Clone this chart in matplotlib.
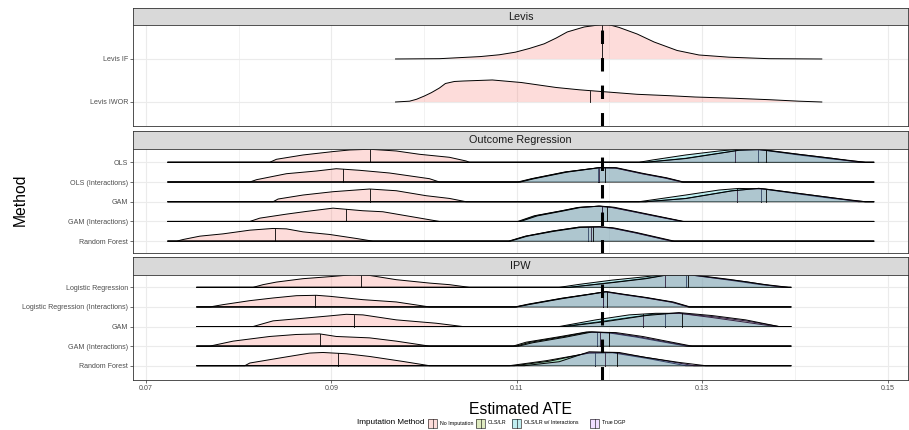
import matplotlib
matplotlib.use('Agg')
import matplotlib.pyplot as plt
from matplotlib.patches import Rectangle
from matplotlib.lines import Line2D
import numpy as np

plt.rcParams['font.family'] = ['Liberation Sans', 'DejaVu Sans']

# ---------------- data ----------------
true_ate = 0.1192
x_ticks = [0.07, 0.09, 0.11, 0.13, 0.15]
x_tick_labels = ['0.07', '0.09', '0.11', '0.13', '0.15']
x_minor = [0.08, 0.10, 0.12, 0.14]
x_limits = (0.0686, 0.1522)

facet_names = ['Levis', 'Outcome Regression', 'IPW']
levis_methods = ['Levis IF', 'Levis IWOR']
or_methods = ['OLS', 'OLS (Interactions)', 'GAM', 'GAM (Interactions)', 'Random Forest']
ipw_methods = ['Logistic Regression', 'Logistic Regression (Interactions)', 'GAM',
               'GAM (Interactions)', 'Random Forest']
imputations = ['No Imputation', 'OLS/LR', 'OLS/LR w/ Interactions', 'True DGP']
imp_colors = ['#F8766D', '#7CAE00', '#00BFC4', '#C77CFF']

# data range of each facet (density support)
levis_range = (0.09692, 0.1429)
or_range = (0.07237, 0.1485)
ipw_range = (0.07549, 0.13956)

# each ridge: (x values, scaled density heights, median)
# ---- Levis ----
lv_if_none = ([0.09692, 0.10166, 0.10607, 0.10812, 0.10984, 0.11135, 0.11296, 0.11426, 0.11544,
               0.11727, 0.11921, 0.11986, 0.12104, 0.12298, 0.12481, 0.12729, 0.12965, 0.13288,
               0.13719, 0.1429],
              [0, 0.007, 0.056, 0.098, 0.158, 0.244, 0.353, 0.488, 0.628, 0.744, 0.802, 0.802,
               0.733, 0.581, 0.395, 0.198, 0.093, 0.042, 0.007, 0], 0.11921)
lv_iwor_none = ([0.09692, 0.09843, 0.09918, 0.10004, 0.1008, 0.10166, 0.1023, 0.10327, 0.10424,
                 0.10736, 0.11049, 0.11426, 0.11673, 0.11921, 0.12298, 0.12642, 0.12922, 0.13353,
                 0.1373, 0.14042, 0.1429],
                [0, 0.019, 0.063, 0.14, 0.219, 0.326, 0.43, 0.477, 0.488, 0.512, 0.453, 0.337,
                 0.284, 0.242, 0.179, 0.147, 0.116, 0.086, 0.053, 0.019, 0], 0.11792)

# ---- Outcome Regression ----
or_ols_none = ([0.08335, 0.08407, 0.08694, 0.09017, 0.09197, 0.09412, 0.097, 0.0995, 0.10273, 0.10453, 0.10489],
               [0, 0.152, 0.371, 0.543, 0.624, 0.66, 0.574, 0.406, 0.254, 0.066, 0], 0.09412)
or_ols_lr = ([0.12391, 0.12822, 0.13181, 0.13396, 0.13611, 0.14042, 0.14401, 0.1476],
             [0, 0.203, 0.457, 0.609, 0.645, 0.371, 0.168, 0], 0.13604)
or_ols_int = ([0.12319, 0.12463, 0.12822, 0.13181, 0.13396, 0.13684, 0.14042, 0.14401, 0.14688],
              [0, 0.117, 0.371, 0.574, 0.66, 0.624, 0.406, 0.203, 0], 0.1335)
or_ols_dgp = ([0.12391, 0.12822, 0.13181, 0.13396, 0.13611, 0.14042, 0.14401, 0.1476],
              [0, 0.19, 0.45, 0.61, 0.65, 0.40, 0.20, 0], 0.13684)

or_olsi_none = ([0.0812, 0.08192, 0.08515, 0.08838, 0.09053, 0.09304, 0.09627, 0.10058, 0.10166],
                [0, 0.117, 0.421, 0.558, 0.675, 0.594, 0.457, 0.168, 0], 0.09124)
or_olsi_lr = ([0.11027, 0.1117, 0.1153, 0.11889, 0.12068, 0.12355, 0.12607, 0.12786],
              [0, 0.168, 0.508, 0.726, 0.711, 0.421, 0.203, 0], 0.11878)
or_olsi_int = ([0.1101, 0.1116, 0.1152, 0.1188, 0.1206, 0.1235, 0.1260, 0.1278],
               [0, 0.17, 0.51, 0.72, 0.71, 0.42, 0.20, 0], 0.11889)
or_olsi_dgp = ([0.1104, 0.1118, 0.1154, 0.1190, 0.1208, 0.1237, 0.1262, 0.1280],
               [0, 0.16, 0.50, 0.73, 0.72, 0.43, 0.21, 0], 0.11953)

or_gam_none = ([0.08371, 0.08425, 0.08694, 0.09017, 0.09412, 0.097, 0.10023, 0.10273, 0.10453],
               [0, 0.137, 0.34, 0.508, 0.645, 0.558, 0.305, 0.168, 0], 0.09412)
or_gam_lr = ([0.12391, 0.12822, 0.13321, 0.13611, 0.14042, 0.14401, 0.1476],
             [0, 0.168, 0.558, 0.675, 0.391, 0.168, 0], 0.13629)
or_gam_int = ([0.12319, 0.12822, 0.13181, 0.13396, 0.13684, 0.14042, 0.14401, 0.14688],
              [0, 0.34, 0.594, 0.675, 0.645, 0.421, 0.203, 0], 0.13375)
or_gam_dgp = ([0.12391, 0.12822, 0.13321, 0.13611, 0.14042, 0.14401, 0.1476],
              [0, 0.16, 0.55, 0.68, 0.42, 0.20, 0], 0.1369)

or_gami_none = ([0.0812, 0.08228, 0.08515, 0.0873, 0.09017, 0.0934, 0.09555, 0.09807, 0.10166],
                [0, 0.168, 0.371, 0.508, 0.675, 0.543, 0.492, 0.289, 0], 0.09161)
or_gami_lr = ([0.11027, 0.11207, 0.11493, 0.11673, 0.11889, 0.12032, 0.12247, 0.12499, 0.12786],
              [0, 0.289, 0.543, 0.711, 0.777, 0.711, 0.508, 0.269, 0], 0.11924)
or_gami_int = ([0.1101, 0.1119, 0.1148, 0.1166, 0.1188, 0.1202, 0.1224, 0.1249, 0.1278],
               [0, 0.29, 0.54, 0.71, 0.77, 0.71, 0.51, 0.27, 0], 0.11924)
or_gami_dgp = ([0.1104, 0.1122, 0.1151, 0.1169, 0.1190, 0.1205, 0.1226, 0.1251, 0.1280],
               [0, 0.28, 0.54, 0.71, 0.78, 0.72, 0.52, 0.28, 0], 0.11972)

or_rf_none = ([0.07331, 0.07402, 0.07581, 0.07832, 0.0812, 0.08371, 0.08515, 0.08694, 0.08981, 0.09269, 0.09448],
              [0, 0.086, 0.254, 0.371, 0.558, 0.645, 0.624, 0.472, 0.34, 0.137, 0], 0.08397)
or_rf_lr = ([0.1092, 0.11099, 0.11386, 0.11673, 0.11889, 0.12032, 0.12284, 0.12678],
            [0, 0.254, 0.508, 0.711, 0.726, 0.66, 0.421, 0], 0.11763)
or_rf_int = ([0.1091, 0.1109, 0.1138, 0.1167, 0.1189, 0.1203, 0.1228, 0.1267],
             [0, 0.25, 0.51, 0.71, 0.72, 0.66, 0.42, 0], 0.1180)
or_rf_dgp = ([0.1093, 0.1111, 0.1140, 0.1169, 0.1190, 0.1205, 0.1230, 0.1270],
             [0, 0.25, 0.50, 0.70, 0.73, 0.67, 0.43, 0], 0.11827)

# ---- IPW ----
ipw_lr_none = ([0.08155, 0.08263, 0.08407, 0.08694, 0.09017, 0.09232, 0.09412, 0.097, 0.10058, 0.10273, 0.10489],
               [0, 0.137, 0.269, 0.442, 0.558, 0.645, 0.609, 0.391, 0.218, 0.137, 0], 0.09318)
ipw_lr_lr = ([0.11566, 0.12032, 0.12391, 0.12607, 0.12893, 0.13288, 0.13647, 0.13934],
             [0, 0.254, 0.457, 0.624, 0.624, 0.371, 0.127, 0], 0.12822)
ipw_lr_int = ([0.11458, 0.11673, 0.12032, 0.12391, 0.12607, 0.12822, 0.13109, 0.13468, 0.13755, 0.13862],
              [0, 0.152, 0.371, 0.543, 0.66, 0.66, 0.492, 0.289, 0.076, 0], 0.12599)
ipw_lr_dgp = ([0.11566, 0.12032, 0.12391, 0.12607, 0.12893, 0.13288, 0.13647, 0.13934],
              [0, 0.24, 0.44, 0.62, 0.64, 0.41, 0.16, 0], 0.1285)

ipw_lri_none = ([0.07689, 0.07832, 0.0812, 0.08371, 0.08623, 0.08838, 0.08981, 0.0934, 0.097, 0.10058],
                [0, 0.117, 0.32, 0.457, 0.574, 0.594, 0.543, 0.371, 0.254, 0], 0.08827)
ipw_lri_lr = ([0.10992, 0.11135, 0.11493, 0.11781, 0.11961, 0.1214, 0.12391, 0.12678, 0.12858],
              [0, 0.137, 0.442, 0.645, 0.777, 0.645, 0.472, 0.239, 0], 0.11932)
ipw_lri_int = ([0.1098, 0.1112, 0.1148, 0.1177, 0.1195, 0.1213, 0.1238, 0.1267, 0.1285],
               [0, 0.14, 0.44, 0.64, 0.77, 0.64, 0.47, 0.24, 0], 0.11932)
ipw_lri_dgp = ([0.1100, 0.1114, 0.1150, 0.1179, 0.1197, 0.1215, 0.1240, 0.1269, 0.1287],
               [0, 0.13, 0.43, 0.64, 0.78, 0.65, 0.48, 0.25, 0], 0.11978)

ipw_gam_none = ([0.08155, 0.08371, 0.08694, 0.08981, 0.09161, 0.0934, 0.097, 0.1013, 0.10417],
                [0, 0.289, 0.421, 0.543, 0.624, 0.594, 0.34, 0.168, 0], 0.0924)
ipw_gam_lr = ([0.11493, 0.11853, 0.12212, 0.12463, 0.1275, 0.13109, 0.13468, 0.13827],
              [0, 0.218, 0.457, 0.624, 0.675, 0.508, 0.289, 0], 0.12596)
ipw_gam_int = ([0.11458, 0.11853, 0.12212, 0.12499, 0.1275, 0.13109, 0.13468, 0.13791],
               [0, 0.34, 0.594, 0.675, 0.675, 0.457, 0.218, 0], 0.12366)
ipw_gam_dgp = ([0.1153, 0.11961, 0.12391, 0.1275, 0.13109, 0.13468, 0.13827],
               [0, 0.254, 0.558, 0.711, 0.558, 0.34, 0], 0.12786)

ipw_gami_none = ([0.07689, 0.0794, 0.08335, 0.08623, 0.08874, 0.09053, 0.09412, 0.097, 0.10058],
                 [0, 0.254, 0.492, 0.594, 0.624, 0.492, 0.421, 0.254, 0], 0.08877)
ipw_gami_lr = ([0.1096, 0.1110, 0.1146, 0.1175, 0.1200, 0.1229, 0.1258, 0.1283],
               [0, 0.20, 0.48, 0.72, 0.67, 0.46, 0.21, 0], 0.1186)
ipw_gami_int = ([0.10992, 0.11135, 0.11493, 0.11781, 0.12032, 0.12319, 0.12607, 0.12858],
                [0, 0.188, 0.472, 0.726, 0.675, 0.472, 0.218, 0], 0.1190)
ipw_gami_dgp = ([0.1102, 0.1117, 0.1153, 0.1181, 0.1207, 0.1236, 0.1264, 0.1289],
                [0, 0.17, 0.46, 0.72, 0.69, 0.49, 0.23, 0], 0.11996)

ipw_rf_none = ([0.08066, 0.0812, 0.08478, 0.08766, 0.08909, 0.09161, 0.09412, 0.09771, 0.10058],
               [0, 0.137, 0.421, 0.645, 0.675, 0.609, 0.472, 0.218, 0], 0.09067)
ipw_rf_lr = ([0.1092, 0.11315, 0.11781, 0.12032, 0.12427, 0.12822],
             [0, 0.254, 0.645, 0.66, 0.355, 0], 0.11842)
ipw_rf_int = ([0.10973, 0.11349, 0.11781, 0.12055, 0.12481, 0.12911],
              [0, 0.228, 0.66, 0.675, 0.355, 0], 0.1195)
ipw_rf_dgp = ([0.11081, 0.11458, 0.11781, 0.12104, 0.12391, 0.1275, 0.13038],
              [0, 0.203, 0.711, 0.675, 0.421, 0.168, 0], 0.12086)

# assemble rows (top to bottom): list of ridges per imputation (None if absent)
levis_rows = [[lv_if_none, None, None, None],
              [lv_iwor_none, None, None, None]]
or_rows = [[or_ols_none, or_ols_lr, or_ols_int, or_ols_dgp],
           [or_olsi_none, or_olsi_lr, or_olsi_int, or_olsi_dgp],
           [or_gam_none, or_gam_lr, or_gam_int, or_gam_dgp],
           [or_gami_none, or_gami_lr, or_gami_int, or_gami_dgp],
           [or_rf_none, or_rf_lr, or_rf_int, or_rf_dgp]]
ipw_rows = [[ipw_lr_none, ipw_lr_lr, ipw_lr_int, ipw_lr_dgp],
            [ipw_lri_none, ipw_lri_lr, ipw_lri_int, ipw_lri_dgp],
            [ipw_gam_none, ipw_gam_lr, ipw_gam_int, ipw_gam_dgp],
            [ipw_gami_none, ipw_gami_lr, ipw_gami_int, ipw_gami_dgp],
            [ipw_rf_none, ipw_rf_lr, ipw_rf_int, ipw_rf_dgp]]

# ---------------- figure ----------------
W, H = 909, 430
fig = plt.figure(figsize=(W / 100, H / 100), dpi=100)

def fx(px):
    return px / W

def fy(py):
    return 1 - py / H

left_px, right_px = 133, 908
panels = [
    ('Levis', levis_methods, levis_rows, levis_range, (8, 25), (25, 126), (0.442, 2.79)),
    ('Outcome Regression', or_methods, or_rows, or_range, (131, 149), (149, 253), (0.40, 5.674)),
    ('IPW', ipw_methods, ipw_rows, ipw_range, (257, 275), (275, 380), (0.27, 5.63)),
]

border_col = '#333333'
grid_col = '#EBEBEB'
text_col = '#4D4D4D'

def draw_ridge(ax, y0, rng, ridge, color, z):
    xs, hs, med = ridge
    px = [rng[0]] + list(xs) + [rng[1]]
    ph = [0.0] + list(hs) + [0.0]
    top = [y0 + v for v in ph]
    ax.fill_between(px, y0, top, facecolor=color, alpha=0.25, lw=0, zorder=z)
    ax.plot(px, top, color='black', lw=0.7, zorder=z + 0.1, solid_joinstyle='round')
    hm = np.interp(med, px, ph)
    ax.plot([med, med], [y0, y0 + hm], color='black', lw=0.6, zorder=z + 0.1)

for i, (name, methods, rows, rng, strip, pnl, ylim) in enumerate(panels):
    sax = fig.add_axes([fx(left_px), fy(strip[1]), fx(right_px - left_px), (strip[1] - strip[0]) / H])
    sax.set_facecolor('#D9D9D9')
    sax.set_xticks([]); sax.set_yticks([])
    for s in sax.spines.values():
        s.set_color(border_col); s.set_linewidth(0.6)
    sax.text(0.5, 0.5, name, ha='center', va='center', fontsize=7.8, color='#1A1A1A',
             transform=sax.transAxes)

    ax = fig.add_axes([fx(left_px), fy(pnl[1]), fx(right_px - left_px), (pnl[1] - pnl[0]) / H])
    ax.set_xlim(*x_limits)
    ax.set_ylim(*ylim)
    n = len(methods)
    ypos = list(range(n, 0, -1))
    for xv in x_minor:
        ax.axvline(xv, color=grid_col, lw=0.45, zorder=0)
    for xv in x_ticks:
        ax.axvline(xv, color=grid_col, lw=0.8, zorder=0)
    for yv in ypos:
        ax.axhline(yv, color=grid_col, lw=0.8, zorder=0)

    for r, (row, y0) in enumerate(zip(rows, ypos)):
        for k, ridge in enumerate(row):
            if ridge is None:
                continue
            draw_ridge(ax, y0, rng, ridge, imp_colors[k], z=2 + r * 1 + k * 0.2)

    ax.axvline(true_ate, color='black', lw=2.2, linestyle=(0, (4.4, 4.6)), zorder=50)

    ax.set_yticks(ypos)
    ax.set_yticklabels(methods, fontsize=5.1, color=text_col)
    ax.tick_params(axis='y', length=2.2, width=0.5, color=border_col, pad=1.2)
    ax.set_xticks(x_ticks)
    if i == len(panels) - 1:
        ax.set_xticklabels(x_tick_labels, fontsize=5.1, color=text_col)
        ax.tick_params(axis='x', length=2.2, width=0.5, color=border_col, pad=1.5)
    else:
        ax.tick_params(axis='x', length=0, labelbottom=False)
    for s in ax.spines.values():
        s.set_color(border_col); s.set_linewidth(0.6)
        s.set_zorder(60)

fig.text(fx((left_px + right_px) / 2), fy(410), 'Estimated ATE', ha='center', va='center', fontsize=11.3)
fig.text(fx(20), fy(200), 'Method', ha='center', va='center', rotation=90, fontsize=11.3)

# legend
ly = fy(423)
fig.text(fx(357), ly, 'Imputation Method', ha='left', va='center', fontsize=5.9)
key_x = [428, 476, 512, 590]
for kx, lab, col in zip(key_x, imputations, imp_colors):
    kh = 9 / H
    fig.patches.append(Rectangle((fx(kx), ly - kh / 2), fx(9), kh, transform=fig.transFigure,
                                 facecolor=col, alpha=0.25, edgecolor='none'))
    fig.patches.append(Rectangle((fx(kx), ly - kh / 2), fx(9), kh, transform=fig.transFigure,
                                 facecolor='none', edgecolor='black', lw=0.4))
    fig.lines.append(Line2D([fx(kx + 4.5)] * 2, [ly - kh / 2, ly + kh / 2], transform=fig.transFigure,
                            color='black', lw=0.4))
    fig.text(fx(kx + 12), ly, lab, ha='left', va='center', fontsize=3.8)

fig.savefig('out.png', dpi=100)
